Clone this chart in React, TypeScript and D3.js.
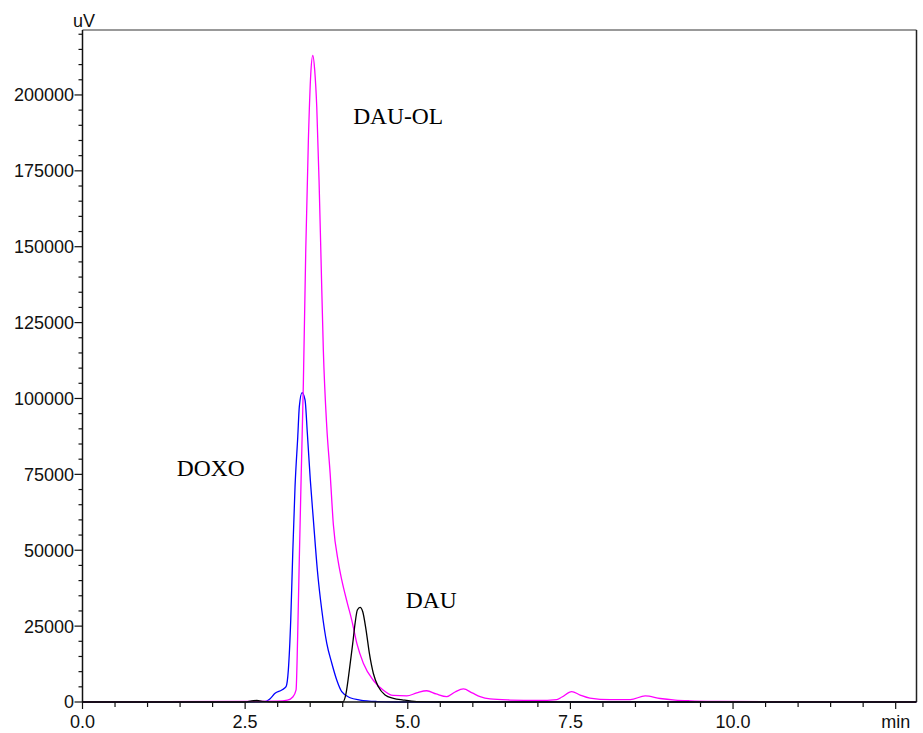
import React from "react";
import * as d3 from "d3";

// Chromatogram traces: retention time (min) and detector response (uV)
const doxoTime = [0, 2.5, 2.8, 2.88, 2.96, 3.063, 3.129, 3.164, 3.201, 3.232, 3.267, 3.309, 3.333, 3.375, 3.421, 3.456, 3.502, 3.549, 3.61, 3.678, 3.755, 3.831, 3.908, 3.985, 4.113, 4.267, 4.523, 4.8, 12.82];
const doxoValue = [0, 0, 100, 1000, 2870, 3950, 5050, 10500, 27000, 49100, 70900, 87400, 97300, 101900, 99500, 88600, 73100, 60000, 43500, 30300, 19300, 12850, 7250, 3400, 1400, 650, 150, 0, 0];

const dauolTime = [0, 2.5, 3.0, 3.15, 3.232, 3.283, 3.306, 3.329, 3.36, 3.395, 3.432, 3.472, 3.509, 3.54, 3.57, 3.601, 3.636, 3.667, 3.702, 3.755, 3.806, 3.856, 3.933, 3.985, 4.071, 4.139, 4.216, 4.317, 4.466, 4.62, 4.774, 4.985, 5.138, 5.292, 5.435, 5.6, 5.727, 5.855, 5.99, 6.112, 6.265, 6.573, 7.0, 7.29, 7.37, 7.52, 7.65, 7.8, 8.11, 8.42, 8.65, 8.88, 9.11, 9.34, 9.8, 10.5, 12.82];
const dauolValue = [0, 200, 300, 600, 1650, 4000, 20400, 43500, 73100, 105000, 149000, 185000, 207000, 213000, 208000, 196000, 172000, 145600, 116000, 90600, 75500, 58500, 46000, 40200, 32600, 27000, 19400, 12800, 7250, 3950, 2150, 2000, 3000, 3700, 2650, 1750, 3300, 4300, 3000, 1750, 1000, 650, 500, 800, 1650, 3450, 2300, 1300, 800, 800, 2000, 1150, 650, 400, 200, 100, 0];

const dauTime = [0, 2.5, 2.6, 2.68, 2.76, 3.0, 4.0, 4.051, 4.102, 4.154, 4.19, 4.225, 4.267, 4.308, 4.359, 4.41, 4.471, 4.548, 4.651, 4.779, 4.932, 5.138, 5.5, 12.82];
const dauValue = [0, 0, 400, 500, 200, 0, 0, 2870, 10500, 19300, 25900, 30300, 31200, 29750, 23700, 16000, 9400, 5000, 2300, 1200, 650, 150, 0, 0];

const yMajorTicks = [0, 25000, 50000, 75000, 100000, 125000, 150000, 175000, 200000];
const xMajorTicks = [0, 2.5, 5, 7.5, 10, 12.5];
const xTickLabels = ["0.0", "2.5", "5.0", "7.5", "10.0", "min"];

const peakLabels = ["DAU-OL", "DOXO", "DAU"];
const peakLabelPos = [
  { t: 4.16, v: 190400 },
  { t: 1.45, v: 74500 },
  { t: 4.97, v: 31000 },
];

const W = 923;
const H = 733;
const left = 82.5;
const right = 916.5;
const top = 30;
const bottom = 702;
const xMax = 12.82;
const yMax = 221400;

export default function App() {
  const x = d3.scaleLinear().domain([0, xMax]).range([left, right]);
  const y = d3.scaleLinear().domain([0, yMax]).range([bottom, top]);

  const line = d3
    .line<[number, number]>()
    .x((d) => x(d[0]))
    .y((d) => y(d[1]))
    .curve(d3.curveMonotoneX);

  const traces = [
    { t: doxoTime, v: doxoValue, color: "#0000ff" },
    { t: dauolTime, v: dauolValue, color: "#ff00ff" },
    { t: dauTime, v: dauValue, color: "#000000" },
  ];

  const yMinor = d3.range(0, yMax, 5000).filter((v) => v % 25000 !== 0);
  const xMinor = d3.range(0, xMax, 0.5).filter((t) => Math.abs(t / 2.5 - Math.round(t / 2.5)) > 1e-6);

  const tickFont = "'Liberation Sans', Arial, sans-serif";

  return (
    <svg
      width={W}
      height={H}
      style={{ position: "absolute", left: 0, top: 0, background: "#fff" }}
    >
      <rect x={0} y={0} width={W} height={H} fill="#fff" />
      <defs>
        <clipPath id="plotClip">
          <rect x={left} y={top} width={right - left} height={bottom - top + 1} />
        </clipPath>
      </defs>

      {/* traces */}
      <g clipPath="url(#plotClip)">
        {traces.map((tr, i) => (
          <path
            key={i}
            d={line(tr.t.map((t, j) => [t, tr.v[j]] as [number, number])) || ""}
            fill="none"
            stroke={tr.color}
            strokeWidth={1.3}
          />
        ))}
      </g>

      {/* frame */}
      <line x1={left} x2={right} y1={top} y2={top} stroke="#777" strokeWidth={1.5} />
      <line x1={right} x2={right} y1={top} y2={bottom} stroke="#222" strokeWidth={1.5} />
      <line x1={left} x2={left} y1={top} y2={bottom} stroke="#111" strokeWidth={1.5} />
      <line x1={left} x2={right} y1={bottom} y2={bottom} stroke="#111" strokeWidth={1.5} />

      {/* y axis ticks */}
      {yMinor.map((v) => (
        <line key={"ym" + v} x1={left - 4} x2={left} y1={y(v)} y2={y(v)} stroke="#111" strokeWidth={1.2} />
      ))}
      {yMajorTicks.map((v) => (
        <g key={"yM" + v}>
          <line x1={left - 8} x2={left} y1={y(v)} y2={y(v)} stroke="#111" strokeWidth={1.2} />
          <text
            x={left - 8.5}
            y={y(v)}
            dy="0.36em"
            textAnchor="end"
            fontFamily={tickFont}
            fontSize={18}
            fill="#111"
          >
            {v}
          </text>
        </g>
      ))}
      <text x={73} y={26.5} fontFamily={tickFont} fontSize={18} fill="#111">
        uV
      </text>

      {/* x axis ticks */}
      {xMinor.map((t) => (
        <line key={"xm" + t} x1={x(t)} x2={x(t)} y1={bottom} y2={bottom + 5} stroke="#111" strokeWidth={1.2} />
      ))}
      {xMajorTicks.map((t, i) => (
        <g key={"xM" + t}>
          <line x1={x(t)} x2={x(t)} y1={bottom} y2={bottom + 7} stroke="#111" strokeWidth={1.2} />
          <text
            x={x(t)}
            y={727.5}
            textAnchor="middle"
            fontFamily={tickFont}
            fontSize={18}
            fill="#111"
          >
            {xTickLabels[i]}
          </text>
        </g>
      ))}

      {/* peak annotations */}
      {peakLabels.map((s, i) => (
        <text
          key={s}
          x={x(peakLabelPos[i].t)}
          y={y(peakLabelPos[i].v)}
          fontFamily="'Liberation Serif', 'Times New Roman', serif"
          fontSize={23.5}
          fill="#000"
        >
          {s}
        </text>
      ))}
    </svg>
  );
}
